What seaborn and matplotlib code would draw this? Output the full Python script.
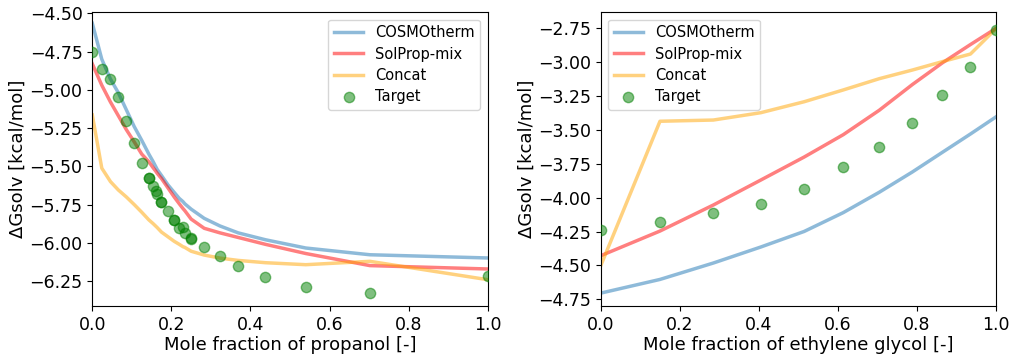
import matplotlib
matplotlib.use("Agg")
import matplotlib.pyplot as plt
from matplotlib.ticker import MultipleLocator, FuncFormatter
import seaborn as sns
import pandas as pd

# ---- propanol mixture ----
x_prop = [0.000, 0.024, 0.046, 0.066, 0.086, 0.106, 0.125, 0.143, 0.154, 0.160,
          0.164, 0.175, 0.191, 0.207, 0.220, 0.229, 0.234, 0.250, 0.283, 0.323,
          0.369, 0.438, 0.540, 0.702, 1.000]
cosmo_prop = [-4.565, -4.800, -4.930, -5.020, -5.130, -5.240, -5.330, -5.420, -5.470, -5.500,
              -5.520, -5.560, -5.620, -5.670, -5.710, -5.730, -5.745, -5.780, -5.840, -5.890,
              -5.935, -5.980, -6.034, -6.078, -6.099]
solprop_prop = [-4.830, -4.970, -5.080, -5.170, -5.260, -5.340, -5.420, -5.470, -5.510, -5.530,
                -5.545, -5.580, -5.640, -5.700, -5.745, -5.775, -5.790, -5.845, -5.905, -5.935,
                -5.965, -6.010, -6.070, -6.149, -6.171]
concat_prop = [-5.164, -5.512, -5.600, -5.655, -5.700, -5.750, -5.800, -5.850, -5.875, -5.890,
               -5.900, -5.930, -5.960, -5.990, -6.010, -6.025, -6.030, -6.055, -6.080, -6.100,
               -6.115, -6.130, -6.143, -6.121, -6.241]
x_prop_target = [0.000, 0.024, 0.046, 0.066, 0.086, 0.106, 0.125, 0.143, 0.143, 0.154,
                 0.160, 0.164, 0.175, 0.175, 0.191, 0.207, 0.207, 0.220, 0.229, 0.234,
                 0.250, 0.250, 0.283, 0.323, 0.369, 0.438, 0.540, 0.702, 1.000]
target_prop = [-4.750, -4.864, -4.927, -5.044, -5.203, -5.349, -5.477, -5.575, -5.577, -5.630,
               -5.660, -5.678, -5.730, -5.732, -5.789, -5.849, -5.851, -5.900, -5.897, -5.936,
               -5.970, -5.972, -6.030, -6.089, -6.154, -6.223, -6.287, -6.326, -6.219]

# ---- ethylene glycol mixture ----
x_eg = [0.000, 0.150, 0.285, 0.405, 0.515, 0.614, 0.705, 0.789, 0.865, 0.936, 1.000]
cosmo_eg = [-4.704, -4.603, -4.482, -4.364, -4.249, -4.110, -3.960, -3.810, -3.665, -3.530, -3.405]
solprop_eg = [-4.428, -4.246, -4.054, -3.870, -3.700, -3.535, -3.355, -3.165, -3.005, -2.870, -2.752]
concat_eg = [-4.502, -3.436, -3.427, -3.373, -3.292, -3.205, -3.122, -3.058, -2.996, -2.940, -2.755]
target_eg = [-4.235, -4.182, -4.115, -4.049, -3.936, -3.771, -3.624, -3.447, -3.242, -3.035, -2.762]

model_names = ["COSMOtherm", "SolProp-mix", "Concat"]
model_colors = ["tab:blue", "red", "orange"]

fig = plt.figure(figsize=(10.11, 3.54), dpi=100)
ax1 = fig.add_axes([0.0913, 0.1356, 0.3911, 0.8297])
ax2 = fig.add_axes([0.5942, 0.1356, 0.3907, 0.8297])

panels = [
    (ax1, x_prop, [cosmo_prop, solprop_prop, concat_prop], x_prop_target, target_prop,
     "Mole fraction of propanol [-]", (-6.413, -4.493), "upper right"),
    (ax2, x_eg, [cosmo_eg, solprop_eg, concat_eg], x_eg, target_eg,
     "Mole fraction of ethylene glycol [-]", (-4.799, -2.632), "upper left"),
]

minus_fmt = FuncFormatter(lambda v, p: f"{v:.2f}".replace("-", "\u2212"))

for ax, xs, models, xt, yt, xlabel, ylim, loc in panels:
    for name, color, ys in zip(model_names, model_colors, models):
        df = pd.DataFrame({"x": xs, "y": ys})
        sns.lineplot(data=df, x="x", y="y", ax=ax, color=color, alpha=0.5,
                     linewidth=2.5, label=name, sort=False, estimator=None)
    dt = pd.DataFrame({"x": xt, "y": yt})
    sns.scatterplot(data=dt, x="x", y="y", ax=ax, color="green", alpha=0.5,
                    s=55, edgecolor="green", linewidth=1, label="Target", zorder=3)
    ax.set_xlim(0, 1)
    ax.set_ylim(*ylim)
    ax.yaxis.set_major_locator(MultipleLocator(0.25))
    ax.yaxis.set_major_formatter(minus_fmt)
    ax.set_xlabel(xlabel, fontsize=13, labelpad=2)
    ax.set_ylabel("ΔGsolv [kcal/mol]", fontsize=13, labelpad=2)
    ax.tick_params(labelsize=12.5)
    ax.legend(loc=loc, fontsize=10.5, labelspacing=0.42)

fig.savefig("out.png", dpi=100)
